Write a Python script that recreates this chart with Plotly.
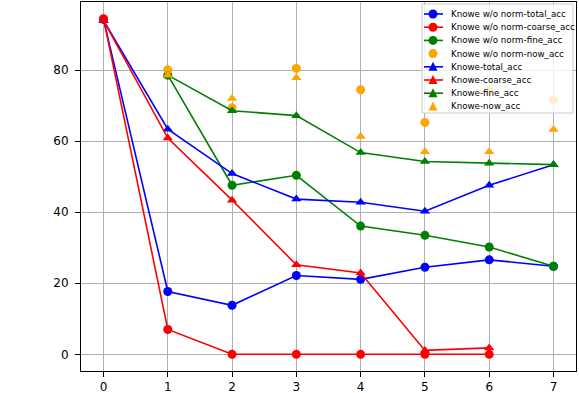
import plotly.graph_objects as go

steps = [0, 1, 2, 3, 4, 5, 6, 7]

# Knowe w/o norm
wo_total = [94.3, 17.7, 13.8, 22.2, 21.1, 24.5, 26.6, 24.8]
wo_coarse = [94.5, 7.0, 0.0, 0.0, 0.0, 0.0, 0.0, None]
wo_fine = [None, 78.6, 47.6, 50.4, 36.1, 33.5, 30.2, 24.8]
wo_now = [None, 80.1, 69.4, 80.5, 74.5, 65.3, 74.2, 71.5]

# Knowe
kn_total = [94.0, 63.4, 50.9, 43.7, 42.8, 40.3, 47.6, 53.4]
kn_coarse = [94.0, 60.9, 43.4, 25.2, 22.9, 1.1, 1.8, None]
kn_fine = [None, 78.6, 68.6, 67.2, 56.8, 54.3, 53.8, 53.4]
kn_now = [None, 78.6, 72.0, 77.9, 61.3, 57.0, 57.0, 63.3]

BLUE = '#0000ff'
RED = '#ff0000'
GREEN = '#008000'
ORANGE = '#ffa500'

series = [
    ('Knowe w/o norm-total_acc', wo_total, BLUE, 'circle', 'lines+markers'),
    ('Knowe w/o norm-coarse_acc', wo_coarse, RED, 'circle', 'lines+markers'),
    ('Knowe w/o norm-fine_acc', wo_fine, GREEN, 'circle', 'lines+markers'),
    ('Knowe w/o norm-now_acc', wo_now, ORANGE, 'circle', 'markers'),
    ('Knowe-total_acc', kn_total, BLUE, 'triangle-up', 'lines+markers'),
    ('Knowe-coarse_acc', kn_coarse, RED, 'triangle-up', 'lines+markers'),
    ('Knowe-fine_acc', kn_fine, GREEN, 'triangle-up', 'lines+markers'),
    ('Knowe-now_acc', kn_now, ORANGE, 'triangle-up', 'markers'),
]

fig = go.Figure()
for name, vals, color, symbol, mode in series:
    fig.add_trace(go.Scatter(
        x=steps, y=vals, name=name, mode=mode,
        line=dict(color=color, width=1.6),
        marker=dict(color=color, symbol=symbol, size=9, line=dict(width=0)),
        showlegend=False,
    ))

# compact legend (matplotlib style), drawn in pixels from the plot's top-right corner
shapes = []
annotations = []
shapes.append(dict(
    type='rect', xref='paper', yref='paper', xsizemode='pixel', ysizemode='pixel',
    xanchor=1, yanchor=1, x0=-154, x1=-3, y0=-2, y1=-111, layer='above',
    fillcolor='rgba(255,255,255,0.8)', line=dict(color='#cccccc', width=1),
))
for i, (name, vals, color, symbol, mode) in enumerate(series):
    cy = -12 - 13.2 * i
    if mode == 'lines+markers':
        shapes.append(dict(
            type='line', xref='paper', yref='paper', xsizemode='pixel', ysizemode='pixel',
            xanchor=1, yanchor=1, x0=-152, x1=-133, y0=cy, y1=cy, layer='above',
            line=dict(color=color, width=1.6),
        ))
    if symbol == 'circle':
        shapes.append(dict(
            type='circle', xref='paper', yref='paper', xsizemode='pixel', ysizemode='pixel',
            xanchor=1, yanchor=1, x0=-147.5, x1=-138.5, y0=cy - 4.5, y1=cy + 4.5,
            layer='above', fillcolor=color, line=dict(width=0),
        ))
    else:
        shapes.append(dict(
            type='path', xref='paper', yref='paper', xsizemode='pixel', ysizemode='pixel',
            xanchor=1, yanchor=1, layer='above', fillcolor=color, line=dict(width=0),
            path=f'M {-147.5} {cy - 4} L {-138.5} {cy - 4} L {-143} {cy + 5} Z',
        ))
    annotations.append(dict(
        text=name, xref='paper', yref='paper', x=1, y=1, xanchor='left', yanchor='middle',
        xshift=-127, yshift=cy, showarrow=False,
        font=dict(family='DejaVu Sans', size=8.7, color='black'),
    ))

axis_style = dict(
    showline=True, mirror=True, linecolor='black', linewidth=1,
    ticks='outside', ticklen=5, tickcolor='black',
    showgrid=True, gridcolor='#b0b0b0', gridwidth=0.8,
    zeroline=False, automargin=False,
    tickfont=dict(family='DejaVu Sans', size=12, color='black'),
)

fig.update_xaxes(range=[-0.35, 7.35], tickvals=steps, **axis_style)
fig.update_yaxes(range=[-4.7, 99.2], tickvals=[0, 20, 40, 60, 80],
                 ticklabelstandoff=4, **axis_style)

fig.update_layout(
    width=579, height=393,
    margin=dict(l=81, r=3, t=2, b=22),
    paper_bgcolor='white', plot_bgcolor='white',
    font=dict(family='DejaVu Sans', color='black'),
    shapes=shapes, annotations=annotations,
    showlegend=False,
)

fig.write_html("out.html", config={'displayModeBar': False},
               post_script="document.body.style.margin='0';")
